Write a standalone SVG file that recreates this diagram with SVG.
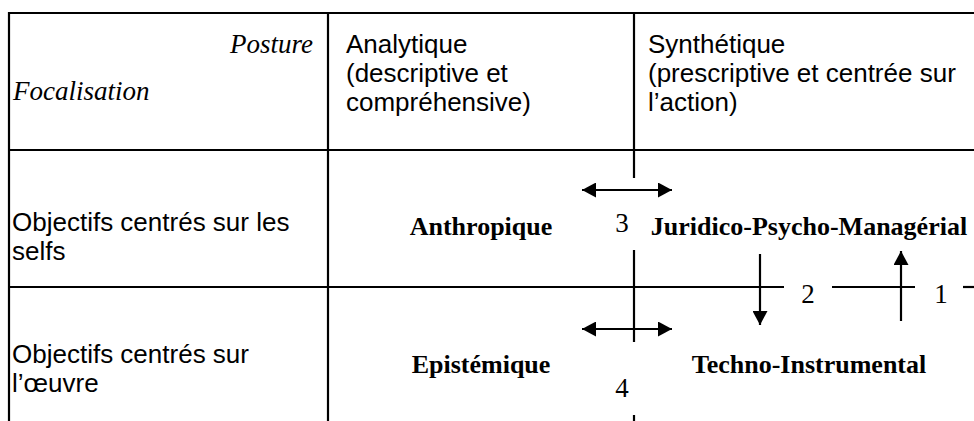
<svg xmlns="http://www.w3.org/2000/svg" width="974" height="421" viewBox="0 0 974 421">
<defs>
<style>
.grid line{stroke:#000;stroke-width:2.2;fill:none}
.sans{font-family:"Liberation Sans",Arial,sans-serif;font-size:26px;fill:#000}
.it{font-family:"Liberation Serif","Times New Roman",serif;font-style:italic;font-size:27px;fill:#000}
.bold{font-family:"Liberation Serif","Times New Roman",serif;font-weight:bold;font-size:26px;fill:#000;text-anchor:middle}
.num{font-family:"Liberation Serif","Times New Roman",serif;font-size:27px;fill:#000;text-anchor:middle}
.conn line{stroke:#000;stroke-width:2.2;fill:none}
</style>
<marker id="ah" markerUnits="userSpaceOnUse" markerWidth="15" markerHeight="15" refX="14" refY="7.5" orient="auto-start-reverse">
<path d="M0,0 L14,7.5 L0,15 z" fill="#000"/>
</marker>
</defs>
<rect width="974" height="421" fill="#fff"/>
<g id="grid" class="grid">
<line x1="8" y1="13" x2="974" y2="13"/>
<line x1="9" y1="12" x2="9" y2="421"/>
<line x1="328" y1="12" x2="328" y2="421"/>
<line x1="9" y1="150" x2="974" y2="150"/>
<line x1="9" y1="287" x2="784" y2="287"/>
<line x1="832" y1="287" x2="915" y2="287"/>
<line x1="963" y1="287" x2="974" y2="287"/>
<line x1="634" y1="12" x2="634" y2="178"/>
<line x1="634" y1="250" x2="634" y2="342"/>
<line x1="634" y1="415" x2="634" y2="421"/>
</g>
<g id="header-corner">
<text class="it" x="313" y="53" text-anchor="end">Posture</text>
<text class="it" x="13" y="100">Focalisation</text>
</g>
<g id="header-analytique">
<text class="sans" x="346" y="53">Analytique</text>
<text class="sans" x="346" y="82">(descriptive et</text>
<text class="sans" x="346" y="111">compréhensive)</text>
</g>
<g id="header-synthetique">
<text class="sans" x="648" y="53">Synthétique</text>
<text class="sans" x="648" y="82">(prescriptive et centrée sur</text>
<text class="sans" x="648" y="111">l’action)</text>
</g>
<g id="row-selfs">
<text class="sans" x="12" y="231">Objectifs centrés sur les</text>
<text class="sans" x="12" y="260">selfs</text>
</g>
<g id="row-oeuvre">
<text class="sans" x="12" y="363">Objectifs centrés sur</text>
<text class="sans" x="12" y="392">l’œuvre</text>
</g>
<g id="node-anthropique"><text class="bold" x="481" y="235">Anthropique</text></g>
<g id="node-juridico"><text class="bold" x="809" y="235">Juridico-Psycho-Managérial</text></g>
<g id="node-epistemique"><text class="bold" x="481" y="373">Epistémique</text></g>
<g id="node-techno"><text class="bold" x="809" y="373">Techno-Instrumental</text></g>
<g id="connectors" class="conn">
<line x1="582" y1="190" x2="672" y2="190" marker-start="url(#ah)" marker-end="url(#ah)"/>
<line x1="582" y1="329" x2="672" y2="329" marker-start="url(#ah)" marker-end="url(#ah)"/>
<line x1="760" y1="254" x2="760" y2="325" marker-end="url(#ah)"/>
<line x1="901" y1="321" x2="901" y2="251" marker-end="url(#ah)"/>
<text class="num" x="622" y="232">3</text>
<text class="num" x="808" y="303">2</text>
<text class="num" x="941" y="303">1</text>
<text class="num" x="622" y="397">4</text>
</g>
</svg>
